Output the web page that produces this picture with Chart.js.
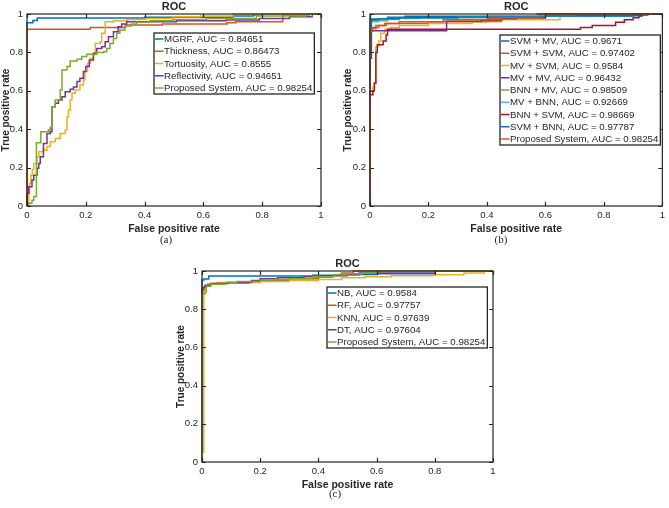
<!DOCTYPE html>
<html><head><meta charset="utf-8">
<script src="https://cdn.jsdelivr.net/npm/chart.js@4/dist/chart.umd.min.js"></script>
<style>
html,body{margin:0;padding:0;background:#fff;}
body{width:669px;height:508px;position:relative;overflow:hidden;}
canvas{position:absolute;}
.cap{position:absolute;font-family:"Liberation Serif","Times New Roman",serif;font-size:11px;color:#222;transform:translateX(-50%);line-height:14px;}
</style></head><body>
<canvas id="ca" width="330" height="236" style="left:0;top:0"></canvas>
<canvas id="cb" width="327" height="236" style="left:342px;top:0"></canvas>
<canvas id="cc" width="330" height="235" style="left:175px;top:257px"></canvas>
<div class="cap" style="left:166px;top:232px">(a)</div>
<div class="cap" style="left:501px;top:232px">(b)</div>
<div class="cap" style="left:335px;top:486px">(c)</div>
<script>
// ---------- (a) ----------
const labelsA = ['MGRF, AUC = 0.84651','Thickness, AUC = 0.86473','Tortuosity, AUC = 0.8555','Reflectivity, AUC = 0.94651','Proposed System, AUC = 0.98254'];
const mgrfX = [0,0,0.02,0.035,0.40,0.70,0.77,0.80,1];
const mgrfY = [0,0.955,0.966,0.979,0.983,0.99,0.995,1,1];
const thickX = [0,0,0.215,0.335,0.46,0.68,0.71,0.87,0.96,1];
const thickY = [0,0.92,0.93,0.943,0.948,0.955,0.96,0.995,1,1];
const tortX = [0,0.006,0.009,0.013,0.018,0.023,0.034,0.040,0.054,0.068,0.079,0.096,0.113,0.13,0.136,0.141,0.147,0.153,0.164,0.18,0.192,0.197,0.206,0.215,0.226,0.232,0.249,0.254,0.266,0.294,0.34,0.407,0.497,0.59,0.70,1];
const tortY = [0,0.066,0.118,0.16,0.19,0.222,0.257,0.283,0.29,0.31,0.335,0.352,0.378,0.396,0.465,0.5,0.552,0.587,0.604,0.63,0.656,0.70,0.743,0.77,0.795,0.847,0.856,0.90,0.96,0.965,0.972,0.977,0.986,0.99,1,1];
const reflX = [0,0,0.006,0.017,0.023,0.034,0.040,0.045,0.056,0.068,0.079,0.085,0.096,0.107,0.119,0.13,0.147,0.158,0.17,0.18,0.192,0.20,0.212,0.226,0.237,0.254,0.266,0.277,0.294,0.31,0.322,0.339,0.508,0.678,0.79,0.893,0.97,1];
const reflY = [0,0.066,0.10,0.135,0.16,0.196,0.222,0.257,0.326,0.378,0.387,0.517,0.535,0.552,0.569,0.595,0.608,0.62,0.648,0.665,0.70,0.726,0.76,0.795,0.82,0.83,0.856,0.882,0.908,0.934,0.948,0.96,0.965,0.969,0.977,0.986,1,1];
const propAX = [0,0.002,0.017,0.023,0.032,0.047,0.073,0.079,0.085,0.096,0.113,0.119,0.136,0.147,0.17,0.186,0.203,0.237,0.26,0.271,0.282,0.294,0.305,0.316,0.333,0.356,0.373,0.418,0.497,0.61,0.78,0.95,1];
const propAY = [0,0.014,0.03,0.05,0.33,0.387,0.396,0.41,0.517,0.552,0.604,0.708,0.726,0.755,0.764,0.778,0.79,0.80,0.804,0.82,0.847,0.873,0.90,0.917,0.9375,0.948,0.957,0.965,0.972,0.977,0.99,1,1];

// ---------- (b) ----------
const labelsB = ['SVM + MV, AUC = 0.9671','SVM + SVM, AUC = 0.97402','MV + SVM, AUC = 0.9584','MV + MV, AUC = 0.96432','BNN + MV, AUC = 0.98509','MV + BNN, AUC = 0.92669','BNN + SVM, AUC = 0.98669','SVM + BNN, AUC = 0.97787','Proposed System, AUC = 0.98254'];
const svmMvX = [0,0,0.06,0.12,0.54,0.93,1];
const svmMvY = [0,0.974,0.983,0.988,0.991,1,1];
const svmSvmX = [0,0,0.007,0.02,0.03,0.055,0.2,0.4,0.6,1];
const svmSvmY = [0,0.91,0.925,0.93,0.94,0.95,0.96,0.975,1,1];
const mvSvmX = [0,0,0.01,0.015,0.02,0.03,0.037,0.05,0.07,0.1,0.2,0.35,0.45,0.65,0.7,1];
const mvSvmY = [0,0.6,0.62,0.64,0.83,0.86,0.9,0.92,0.93,0.94,0.95,0.96,0.97,0.99,1,1];
const mvMvX = [0,0,0.262,0.38,0.45,0.5,0.6,1];
const mvMvY = [0,0.913,0.962,0.965,0.975,0.985,1,1];
const bnnMvX = [0,0,0.06,0.17,0.4,0.57,1];
const bnnMvY = [0,0.965,0.977,0.98,0.99,1,1];
const mvBnnX = [0,0,0.03,0.1,0.3,0.5,0.7,1];
const mvBnnY = [0,0.96,0.972,0.98,0.985,0.99,1,1];
const bnnSvmX = [0,0,0.01,0.015,0.02,0.025,0.045,0.055,0.06,0.72,0.76,0.84,0.87,0.9,0.92,0.93,0.95,1];
const bnnSvmY = [0,0.58,0.6,0.64,0.8,0.84,0.86,0.89,0.92,0.93,0.94,0.957,0.97,0.98,0.99,0.995,1,1];
const svmBnnX = [0,0,0.005,0.03,0.1,0.3,0.6,0.9,1];
const svmBnnY = [0,0.77,0.97,0.975,0.98,0.985,0.99,1,1];
const propBX = [0,0,0.007,0.02,0.05,0.1,0.25,0.45,0.58,1];
const propBY = [0,0.91,0.93,0.94,0.95,0.96,0.97,0.98,1,1];

// ---------- (c) ----------
const labelsC = ['NB, AUC = 0.9584','RF, AUC = 0.97757','KNN, AUC = 0.97639','DT, AUC = 0.97604','Proposed System, AUC = 0.98254'];
const nbX = [0,0,0.007,0.023,0.38,0.47,0.6,0.8,1];
const nbY = [0,0.953,0.958,0.974,0.978,0.982,0.985,1,1];
const rfX = [0,0,0.01,0.02,0.05,0.16,0.2,0.3,0.4,0.45,0.48,0.52,1];
const rfY = [0,0.91,0.92,0.93,0.937,0.944,0.95,0.96,0.97,0.98,0.99,1,1];
const knnX = [0,0,0.006,0.012,0.02,0.05,0.2,0.3,0.4,0.48,0.56,0.65,0.8,0.9,0.97,1];
const knnY = [0,0.05,0.9,0.92,0.935,0.94,0.945,0.95,0.955,0.965,0.97,0.975,0.98,0.99,1,1];
const dtX = [0,0,0.005,0.01,0.03,0.09,0.17,0.2,0.26,0.35,0.44,0.5,0.54,0.8,1];
const dtY = [0,0.9,0.915,0.925,0.935,0.94,0.95,0.96,0.965,0.97,0.975,0.98,0.99,1,1];
const propCX = [0,0,0.01,0.015,0.03,0.08,0.12,0.2,0.25,0.3,0.38,0.45,0.5,0.55,0.6,1];
const propCY = [0,0.88,0.89,0.92,0.93,0.94,0.945,0.95,0.955,0.96,0.97,0.98,0.985,0.99,1,1];

const C = {blue:'#0072BD', orange:'#D95319', yellow:'#EDB120', purple:'#7E2F8E', green:'#77AC30', cyan:'#4DBEEE', red:'#A2142F'};
const INK = '#262626';
const FONT = 'Arial, "Liberation Sans", Helvetica, sans-serif';

const framePlugin = {
  id: 'frame',
  afterDatasetsDraw(chart, args, o) {
    const {ctx, chartArea: a, scales} = chart;
    ctx.save();
    ctx.strokeStyle = INK; ctx.lineWidth = 1.2;
    // inner ticks
    ctx.beginPath();
    scales.x.ticks.forEach(t => {
      const px = Math.round(scales.x.getPixelForValue(t.value)) + 0.5;
      ctx.moveTo(px, a.bottom); ctx.lineTo(px, a.bottom - 4);
      ctx.moveTo(px, a.top); ctx.lineTo(px, a.top + 4);
    });
    scales.y.ticks.forEach(t => {
      const py = Math.round(scales.y.getPixelForValue(t.value)) + 0.5;
      ctx.moveTo(a.left, py); ctx.lineTo(a.left + 4, py);
      ctx.moveTo(a.right, py); ctx.lineTo(a.right - 4, py);
    });
    ctx.stroke();
    ctx.strokeRect(a.left, a.top, a.right - a.left, a.bottom - a.top);
    // title
    ctx.fillStyle = INK;
    ctx.font = 'bold 11px ' + FONT;
    ctx.textAlign = 'center'; ctx.textBaseline = 'middle';
    ctx.fillText('ROC', (a.left + a.right) / 2, a.top - 7.5);
    // legend
    const ds = chart.data.datasets;
    ctx.font = '9.7px ' + FONT;
    let maxW = 0;
    ds.forEach(d => { maxW = Math.max(maxW, ctx.measureText(d.label).width); });
    const L = o.left, T = o.top, step = 12.25;
    const W = 10 + maxW + 2, H = 12 + (ds.length - 1) * step;
    ctx.fillStyle = '#fff';
    ctx.fillRect(L, T, W, H);
    ctx.lineWidth = 1.3; ctx.strokeStyle = INK;
    ctx.strokeRect(L, T, W, H);
    ctx.textAlign = 'left';
    ds.forEach((d, i) => {
      const y = T + 6 + i * step;
      ctx.strokeStyle = d.borderColor; ctx.lineWidth = 1.5;
      ctx.beginPath(); ctx.moveTo(L + 1, y); ctx.lineTo(L + 9.5, y); ctx.stroke();
      ctx.fillStyle = INK;
      ctx.fillText(d.label, L + 10, y + 0.5);
    });
    ctx.restore();
  }
};

const fmt = v => String(Math.round(v * 10) / 10);

function build(id, sets, g) {
  const n = sets.length;
  return new Chart(document.getElementById(id), {
    type: 'line',
    data: {
      datasets: sets.map((s, i) => ({
        label: s.label,
        data: s.x.map((x, j) => ({x: x, y: s.y[j]})),
        borderColor: s.color, backgroundColor: s.color,
        borderWidth: 1.5, pointRadius: 0, stepped: 'before', fill: false,
        clip: 4, order: n - i
      }))
    },
    options: {
      responsive: false, animation: false, events: [],
      layout: {autoPadding: false, padding: {left: 0, top: g.padTop, right: g.padRight, bottom: g.padBottom}},
      plugins: {legend: {display: false}, tooltip: {enabled: false}, frame: g.legend},
      scales: {
        x: {
          type: 'linear', min: 0, max: 1,
          ticks: {stepSize: 0.2, padding: 4, color: INK, font: {family: FONT, size: 9.5}, maxRotation: 0, callback: fmt},
          grid: {display: false, drawTicks: false}, border: {display: false},
          title: {display: true, text: 'False positive rate', color: INK, font: {family: FONT, size: 10.5, weight: 'bold'}, padding: {top: 0, bottom: 0}},
          afterFit(s) { s.height = g.xH; }
        },
        y: {
          type: 'linear', min: 0, max: 1,
          ticks: {stepSize: 0.2, padding: 4, color: INK, font: {family: FONT, size: 9.5}, callback: fmt},
          grid: {display: false, drawTicks: false}, border: {display: false},
          title: {display: true, text: 'True positive rate', color: INK, font: {family: FONT, size: 10, weight: 'bold'}, padding: {top: 0, bottom: 0}},
          afterFit(s) { s.width = g.yW; }
        }
      }
    },
    plugins: [framePlugin]
  });
}

build('ca', [
  {label: labelsA[0], x: mgrfX, y: mgrfY, color: C.blue},
  {label: labelsA[1], x: thickX, y: thickY, color: C.orange},
  {label: labelsA[2], x: tortX, y: tortY, color: C.yellow},
  {label: labelsA[3], x: reflX, y: reflY, color: C.purple},
  {label: labelsA[4], x: propAX, y: propAY, color: C.green}
], {yW: 27, padTop: 14, padRight: 9, padBottom: 1, xH: 29, legend: {left: 154, top: 33}});

build('cb', [
  {label: labelsB[0], x: svmMvX, y: svmMvY, color: C.blue},
  {label: labelsB[1], x: svmSvmX, y: svmSvmY, color: C.orange},
  {label: labelsB[2], x: mvSvmX, y: mvSvmY, color: C.yellow},
  {label: labelsB[3], x: mvMvX, y: mvMvY, color: C.purple},
  {label: labelsB[4], x: bnnMvX, y: bnnMvY, color: C.green},
  {label: labelsB[5], x: mvBnnX, y: mvBnnY, color: C.cyan},
  {label: labelsB[6], x: bnnSvmX, y: bnnSvmY, color: C.red},
  {label: labelsB[7], x: svmBnnX, y: svmBnnY, color: C.blue},
  {label: labelsB[8], x: propBX, y: propBY, color: C.orange}
], {yW: 28, padTop: 14, padRight: 2, padBottom: 1, xH: 29, legend: {left: 158, top: 35}});

build('cc', [
  {label: labelsC[0], x: nbX, y: nbY, color: C.blue},
  {label: labelsC[1], x: rfX, y: rfY, color: C.orange},
  {label: labelsC[2], x: knnX, y: knnY, color: C.yellow},
  {label: labelsC[3], x: dtX, y: dtY, color: C.purple},
  {label: labelsC[4], x: propCX, y: propCY, color: C.green}
], {yW: 27, padTop: 14, padRight: 12, padBottom: 1, xH: 29, legend: {left: 152, top: 30}});
</script>
</body></html>
